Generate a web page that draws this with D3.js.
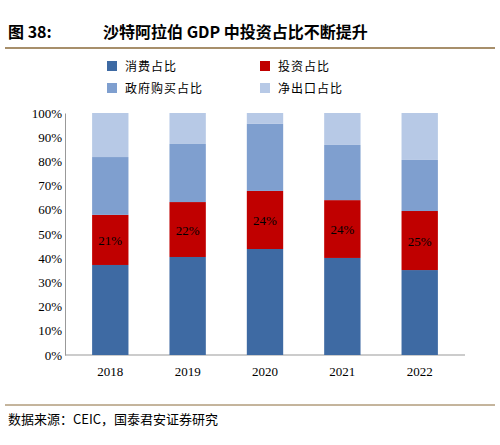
<!DOCTYPE html>
<html><head><meta charset="utf-8">
<script src="https://cdn.jsdelivr.net/npm/d3@7"></script>
<style>body{margin:0;background:#fff}</style>
</head><body><svg id="c" width="500" height="445"></svg>
<script>
const years = ['2018', '2019', '2020', '2021', '2022'];
const consumption = [37.2, 40.5, 43.8, 40.1, 35.1];
const investment = [20.7, 22.7, 24.0, 23.9, 24.4];
const government = [23.9, 24.0, 27.7, 22.8, 21.1];
const netExports = [18.2, 12.8, 4.5, 13.2, 19.4];
const investLabels = ['21%', '22%', '24%', '24%', '25%'];
const seriesNames = ['消费占比', '投资占比', '政府购买占比', '净出口占比'];
const colors = ['#3e6aa3', '#c00000', '#7f9fcf', '#b7c9e6'];
const yTicks = d3.range(0, 101, 10);

const svg = d3.select('#c');
const serif = '"Liberation Serif", "Noto Sans CJK SC", serif';
const cjk = '"Noto Sans CJK SC", sans-serif';

// Title
svg.append('text').attr('x', 8).attr('y', 38).attr('font-family', cjk).attr('font-weight', 'bold')
  .attr('font-size', 16).text('图 38:');
svg.append('text').attr('x', 103).attr('y', 38).attr('font-family', cjk).attr('font-weight', 'bold')
  .attr('font-size', 16).text('沙特阿拉伯 GDP 中投资占比不断提升');
svg.append('line').attr('x1', 5).attr('x2', 495).attr('y1', 48).attr('y2', 48)
  .attr('stroke', '#8a6a3a').attr('stroke-width', 1.5);

// Source
svg.append('line').attr('x1', 5).attr('x2', 495).attr('y1', 405).attr('y2', 405)
  .attr('stroke', '#8a6a3a').attr('stroke-width', 1);
svg.append('text').attr('x', 8).attr('y', 424).attr('font-family', cjk)
  .attr('font-size', 13).text('数据来源：CEIC，国泰君安证券研究');

// Scales
const x = d3.scaleBand().domain(years).range([72, 458]).paddingInner(0.53).paddingOuter(0.26);
const y = d3.scaleLinear().domain([0, 100]).range([355, 113]);

const yAxis = svg.append('g').attr('transform', 'translate(65,0)')
  .call(d3.axisLeft(y).tickValues(yTicks).tickFormat(d => d + '%').tickSize(0).tickPadding(3));
yAxis.select('.domain').attr('stroke', '#999');
yAxis.selectAll('text').attr('font-family', serif).attr('font-size', 13).attr('fill', '#000');

const xAxis = svg.append('g').attr('transform', 'translate(0,355)')
  .call(d3.axisBottom(x).tickSize(0).tickPadding(12));
xAxis.select('.domain').attr('d', 'M65,0H465').attr('stroke', '#999');
xAxis.selectAll('text').attr('font-family', serif).attr('font-size', 13).attr('fill', '#000');

// Stacked bars
const rows = years.map((yr, i) => ({ year: yr, s0: consumption[i], s1: investment[i], s2: government[i], s3: netExports[i] }));
const stack = d3.stack().keys(['s0', 's1', 's2', 's3'])(rows);
stack.forEach((layer, k) => {
  svg.append('g').selectAll('rect').data(layer).enter().append('rect')
    .attr('x', d => x(d.data.year))
    .attr('width', x.bandwidth())
    .attr('y', d => y(Math.min(d[1], 100)))
    .attr('height', d => y(d[0]) - y(Math.min(d[1], 100)))
    .attr('fill', colors[k]);
});

// Investment labels
svg.append('g').selectAll('text').data(stack[1]).enter().append('text')
  .attr('x', d => x(d.data.year) + x.bandwidth() / 2)
  .attr('y', d => y((d[0] + d[1]) / 2) + 5)
  .attr('text-anchor', 'middle').attr('font-family', serif).attr('font-size', 13)
  .text((d, i) => investLabels[i]);

// Legend
const legendPos = [[107, 70], [260, 70], [107, 92], [260, 92]];
seriesNames.forEach((name, i) => {
  const [lx, ly] = legendPos[i];
  svg.append('rect').attr('x', lx).attr('y', ly - 9).attr('width', 10).attr('height', 10).attr('fill', colors[i]);
  svg.append('text').attr('x', lx + 18).attr('y', ly + 1).attr('font-family', cjk)
    .attr('font-size', 12).attr('letter-spacing', 1).text(name);
});
</script></body></html>
